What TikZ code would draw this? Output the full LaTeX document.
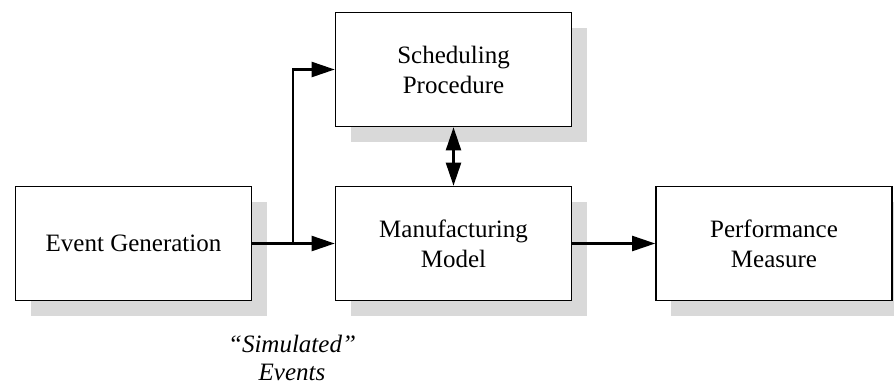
\documentclass[tikz,border=0pt]{standalone}
\usepackage{fontspec}
\setmainfont{Liberation Serif}
\usetikzlibrary{arrows.meta,shadows}
\begin{document}
\begin{tikzpicture}[x=1pt,y=-1pt,
  block/.style={draw, line width=1.6pt, fill=white,
    minimum width=236pt, minimum height=114pt, inner sep=0pt,
    align=center, font=\fontsize{25}{30}\selectfont,
    drop shadow={shadow xshift=15pt, shadow yshift=-15pt,
      fill=black!15, opacity=1}},
  link/.style={line width=2.2pt, -{Triangle[length=23pt,width=15pt]}},
  both/.style={line width=2.2pt,
    {Triangle[length=23pt,width=15pt]}-{Triangle[length=23pt,width=15pt]}},
  caption/.style={font=\fontsize{25}{29}\selectfont\itshape, anchor=base, inner sep=0pt},
]
\clip (0,0) rectangle (894,384);

% blocks
\node[block] (eg) at (133.5,243.5) {Event Generation};
\node[block] (sp) at (453.5,69.5) {Scheduling\\Procedure};
\node[block] (mm) at (453.5,243.5) {Manufacturing\\Model};
\node[block] (pm) at (774,243.5) {Performance\\Measure};

% connectors
\coordinate (br) at (293,243.5);
\draw[link] (eg.east) -- (mm.west);
\draw[link] (br) |- (sp.west);
\draw[both] (sp.south) -- (mm.north);
\draw[link] (mm.east) -- (pm.west);

% label under the event stream
\node[caption] (sim) at (292,352) {“Simulated”};
\node[caption] (ev) at (292,380) {Events};
\end{tikzpicture}
\end{document}
